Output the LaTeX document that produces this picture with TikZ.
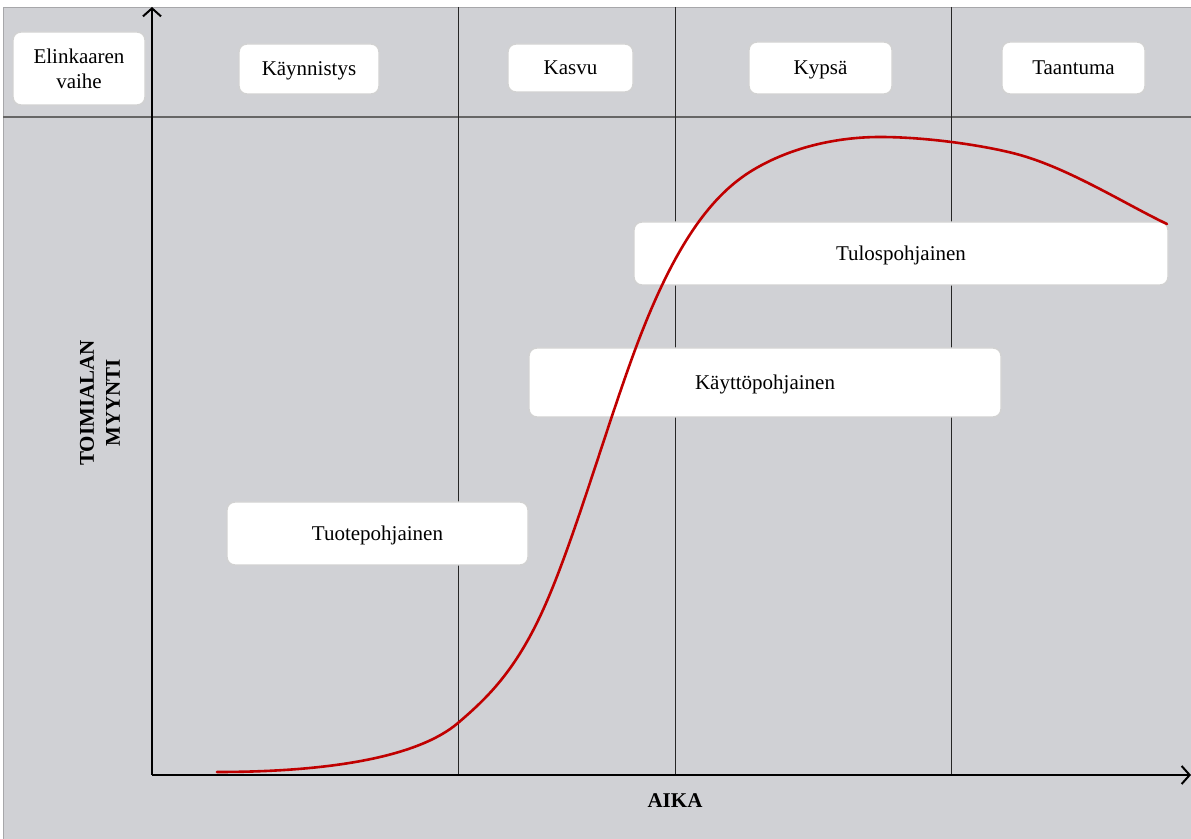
\documentclass[tikz,border=0pt]{standalone}
\usepackage{fontspec}
\setmainfont{Liberation Serif}
\usetikzlibrary{arrows.meta}
\definecolor{panelgray}{RGB}{208,209,213}
\definecolor{curvered}{RGB}{192,0,0}
\tikzset{
  phasebox/.style={draw=gray!35, fill=white, rounded corners=4pt,
    line width=0.7pt, inner sep=0pt, align=center,
    font=\fontsize{10.5}{12.5}\selectfont},
  onelinebox/.style={phasebox, text height=7pt, text depth=0pt},
  axislabel/.style={font=\bfseries\fontsize{10.5}{13}\selectfont, align=center},
  axisline/.style={line width=1pt, -{Straight Barb[length=4pt,width=9pt]}},
  gridline/.style={line width=0.45pt, black!85},
}
\begin{document}
\begin{tikzpicture}[x=0.5pt, y=-0.5pt]
    \useasboundingbox (0,0) rectangle (1191,839);
    % Background and header
    \fill[white] (0,0) rectangle (1191,839);
    \draw[panelgray!80!black, fill=panelgray, line width=0.4pt] (3,7) rectangle (1191,842);
    \draw[line width=0.9pt, black!60] (3,117) -- (1191,117);
    % Phase borders
    \coordinate (origin) at (152,775);
    \coordinate (ytop) at (152,7);
    \coordinate (xend) at (1191,775);
    \foreach \xx/\nm in {458/b1, 675/b2, 951/b3} {
      \coordinate (\nm top) at (\xx,7);
      \coordinate (\nm bot) at (\xx,775);
      \draw[gridline] (\nm top) -- (\nm bot);
    }
    % Axis and such
    \draw[axisline] (origin) -- (ytop);
    \draw[axisline] (origin) -- (xend);
    \node[axislabel] (aika) at (675,801) {AIKA};
    \node[axislabel, rotate=90] (myynti) at (100,403) {TOIMIALAN\\MYYNTI};
    % Phase labels
    \node[phasebox, minimum width=66pt, minimum height=36.5pt] (vaihe) at (79,68.5) {Elinkaaren\\vaihe};
    \node[onelinebox, minimum width=70pt, minimum height=25pt] (kaynnistys) at (309,69) {Käynnistys};
    \node[onelinebox, minimum width=62.5pt, minimum height=24pt] (kasvu) at (570.5,68) {Kasvu};
    \node[onelinebox, minimum width=71.5pt, minimum height=26pt] (kypsa) at (820.5,68) {Kypsä};
    \node[onelinebox, minimum width=71.5pt, minimum height=26pt] (taantuma) at (1073.5,68) {Taantuma};
    % Pricing models
    \node[onelinebox, minimum width=267pt, minimum height=31.5pt] (tulos) at (901,253.5) {Tulospohjainen};
    \node[onelinebox, minimum width=236pt, minimum height=34.5pt] (kaytto) at (765,382.5) {Käyttöpohjainen};
    \node[onelinebox, minimum width=150.5pt, minimum height=31.5pt] (tuote) at (377.5,533.5) {Tuotepohjainen};
    % Sales curve
    \draw[curvered, line width=1.3pt, line cap=round]
      (217,772) .. controls (330,772) and (418,757) .. (458,723)
      .. controls (486,699) and (515,672) .. (543,610)
      .. controls (573,544) and (605,431) .. (635,350)
      .. controls (675,242) and (713,194) .. (753,170)
      .. controls (793,146) and (840,137) .. (880,137)
      .. controls (930,137) and (990,146.5) .. (1020,155)
      .. controls (1070,169) and (1127,205) .. (1167,224);
\end{tikzpicture}
\end{document}
